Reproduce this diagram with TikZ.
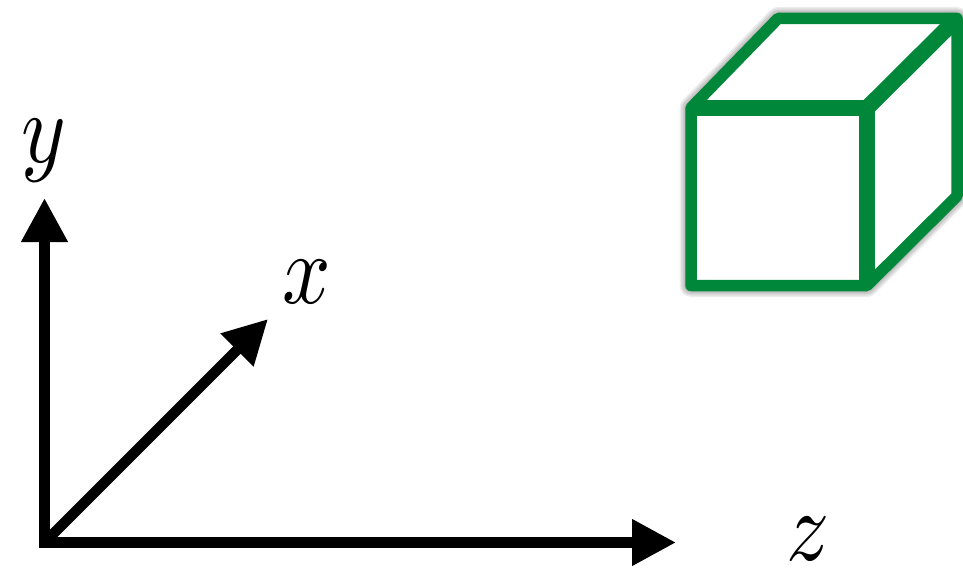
\documentclass[tikz,border=0pt]{standalone}
\usetikzlibrary{arrows.meta}
\definecolor{cubegreen}{RGB}{0,135,58}
\tikzset{
  axisarrow/.style={-{Triangle[length=44pt, width=44pt]}, line width=10.5pt, black},
  axislabel/.style={xscale=8.5, yscale=10, transform shape, inner sep=0pt, anchor=base},
  cubeedge/.style={line width=11.5pt, cubegreen, line cap=round, line join=round},
  cubeheavy/.style={line width=16pt, cubegreen, line cap=butt}
}

\begin{document}
\begin{tikzpicture}[x=1pt, y=-1pt]
  \useasboundingbox (0,0) rectangle (963,580);
  % axes
  \coordinate (origin) at (44.5,542.5);
  \coordinate (ytip) at (44.5,198);
  \coordinate (xtip) at (268,319);
  \coordinate (ztip) at (676,542.5);
  \draw[axisarrow] (origin) -- (xtip);
  \draw[axisarrow, line cap=rect] (origin) -- (ytip);
  \draw[axisarrow, line cap=rect] (origin) -- (ztip);
  \node[axislabel] (ylabel) at (44,163) {$y$};
  \node[axislabel] (xlabel) at (307,303) {$x$};
  \node[axislabel] (zlabel) at (808,560) {$z$};
  % cube corners
  \coordinate (fl) at (691,108);
  \coordinate (fr) at (867,108);
  \coordinate (bl) at (691,285.5);
  \coordinate (br) at (867,285.5);
  \coordinate (tl) at (778,18.5);
  \coordinate (tr) at (957,18.5);
  \coordinate (rb) at (957,196);
  % soft shadow
  \foreach \w in {2,5,8,11,14,17,20,23}
    \draw[black, opacity=0.07, line width=\w pt, line join=round, fill=black, fill opacity=0.07, yshift=-9pt]
      (fl) -- (tl) -- (tr) -- (rb) -- (br) -- (bl) -- cycle;
  \fill[white] (fl) -- (tl) -- (tr) -- (rb) -- (br) -- (bl) -- cycle;
  % cube edges
  \draw[cubeedge] (fl) -- (tl) -- (tr) -- (rb) -- (br) -- (bl) -- cycle;
  \draw[cubeheavy] (fl) -- (fr);
  \draw[cubeheavy] (fr) -- (br);
  \draw[cubeheavy] (fr) -- (tr);
\end{tikzpicture}
\end{document}
